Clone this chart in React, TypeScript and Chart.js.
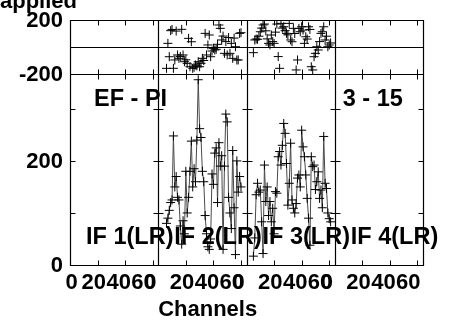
import React, { useEffect, useRef } from "react";
import { Chart, registerables } from "chart.js";

Chart.register(...registerables);

// ---- data ----
const CHANNELS_PER_IF = 64;
const ifNames = ["IF 1(LR)", "IF 2(LR)", "IF 3(LR)", "IF 4(LR)"];
const xTickChannels = [0, 20, 40, 60];
const phaseRange = [-200, 200];
const phaseLabelTicks = [-200, 200];
const ampRange = [0, 367];
const ampTicks = [100, 200, 300];
const ampLabelTicks = [0, 200];

const titleText = "applied";
const baselineText = "EF - PI";
const timeText = "3 - 15";
const xTitle = "Channels";

const if2FirstChannel = 6;
const if2Amp = [
  80, 90, 105, 120, 125, 248, 150, 170, 130, 125, 75, 40, 85, 60, 180, 100, 130, 180,
  238, 150, 185, 160, 240, 356, 262, 245, 180, 160, 95, 60, 35, 30, 50, 175, 155, 215,
  225, 120, 235, 190, 210, 30, 190, 290, 275, 130, 100, 70, 220, 110, 20, 200, 140, 170, 150,
];
const if2Phase = [
  -158, 27, -72, 121, 130, -158, -96, 118, -59, -84, -70, 131, -59, -109, -95, -121, 64,
  -146, 39, -158, -150, -133, -140, -109, -146, -121, -84, -100, 101, -59, 15, 89, -72,
  -30, -10, -22, -17, 20, 163, 138, 52, 81, -47, 40, -59, 70, -47, 27, -84, 66, 2, -96,
  -96, 101, 106,
];

const if3FirstChannel = 5;
const if3Amp = [
  17, 52, 135, 157, 140, 144, 83, 22, 192, 122, 150, 95, 122, 83, 109, 60, 141, 138, 208,
  218, 192, 230, 272, 253, 195, 115, 157, 234, 125, 109, 100, 118, 167, 173, 150, 259,
  227, 208, 173, 128, 90, 38, 208, 189, 192, 145, 160, 179, 128, 144, 110, 247, 157, 147,
  100, 89, 83,
];
const if3Phase = [
  -42, 52, 59, 57, 80, 113, 140, 163, 170, 120, 60, 27, 15, 89, 40, 27, 110, 170, -71,
  -158, 175, 140, 150, 121, 101, 90, 175, 52, 39, 138, 100, -170, -96, 138, 113, 150,
  125, 27, 76, 59, 150, 130, -146, -170, -72, -47, 2, -22, 40, 101, 113, 150, 52, 80, 2,
  15, 30,
];

const FONT = '"Liberation Sans", Arial, Helvetica, sans-serif';

function toPoints(ifIndex: number, first: number, values: number[]) {
  return values.map((v, i) => ({ x: ifIndex * CHANNELS_PER_IF + first + i, y: v }));
}

const framePlugin = {
  id: "aipsFrame",
  afterDatasetsDraw(chart: any) {
    const { ctx, scales } = chart;
    const xs = scales.x;
    const amp = scales.amp;
    const ph = scales.phase;
    const L = xs.getPixelForValue(0);
    const R = xs.getPixelForValue(CHANNELS_PER_IF * ifNames.length);
    const T = ph.getPixelForValue(phaseRange[1]);
    const M = ph.getPixelForValue(phaseRange[0]);
    const Z = ph.getPixelForValue(0);
    const B = amp.getPixelForValue(0);
    const px = (v: number) => Math.round(v) + 0.5;
    const tick = 5;

    ctx.save();
    ctx.strokeStyle = "#000";
    ctx.lineWidth = 1.2;
    ctx.beginPath();
    ctx.rect(px(L), px(T), Math.round(R) - Math.round(L), Math.round(B) - Math.round(T));
    ctx.moveTo(px(L), px(M));
    ctx.lineTo(px(R), px(M));
    ctx.moveTo(px(L), px(Z));
    ctx.lineTo(px(R), px(Z));
    for (let p = 1; p < ifNames.length; p++) {
      const xx = px(xs.getPixelForValue(p * CHANNELS_PER_IF));
      ctx.moveTo(xx, px(T));
      ctx.lineTo(xx, px(B));
    }
    ctx.stroke();

    ctx.lineWidth = 1;
    ctx.beginPath();
    for (let p = 0; p < ifNames.length; p++) {
      for (const c of xTickChannels) {
        if (c === 0) continue;
        const xx = px(xs.getPixelForValue(p * CHANNELS_PER_IF + c));
        ctx.moveTo(xx, px(T));
        ctx.lineTo(xx, px(T) + tick);
        ctx.moveTo(xx, px(M) - tick);
        ctx.lineTo(xx, px(M) + tick);
        ctx.moveTo(xx, px(B));
        ctx.lineTo(xx, px(B) - tick);
      }
    }
    for (let p = 0; p <= ifNames.length; p++) {
      const xx = px(xs.getPixelForValue(p * CHANNELS_PER_IF));
      for (const v of ampTicks) {
        const yy = px(amp.getPixelForValue(v));
        ctx.moveTo(p === 0 ? xx : xx - tick, yy);
        ctx.lineTo(p === ifNames.length ? xx : xx + tick, yy);
      }
    }
    ctx.stroke();

    ctx.fillStyle = "#000";
    // y labels
    ctx.font = `bold 22px ${FONT}`;
    ctx.textAlign = "right";
    ctx.textBaseline = "middle";
    for (const v of phaseLabelTicks) {
      ctx.fillText(String(v), L - 7, ph.getPixelForValue(v) + 1);
    }
    for (const v of ampLabelTicks) {
      ctx.fillText(String(v), L - 7, amp.getPixelForValue(v) + 1);
    }
    // x labels (packed, as in the AIPS plot)
    ctx.font = `bold 22px ${FONT}`;
    ctx.textAlign = "center";
    for (let p = 0; p < ifNames.length; p++) {
      const start = xs.getPixelForValue(p * CHANNELS_PER_IF);
      for (const c of xTickChannels) {
        const d = xs.getPixelForValue(p * CHANNELS_PER_IF + c) - start;
        let cx = c === 0 ? start - 8 : start + 0.9 * d - 1;
        cx = Math.max(cx, L + 1.5);
        ctx.fillText(String(c), cx, B + 18);
      }
    }
    // x title
    ctx.textBaseline = "alphabetic";
    ctx.fillText(xTitle, L + (R - L) * 0.39, B + 51);

    // title (cut at top)
    ctx.textAlign = "left";
    ctx.fillText(titleText, 0, 8);

    // panel annotations
    ctx.font = `bold 23.5px ${FONT}`;
    ctx.fillText(baselineText, xs.getPixelForValue(0) + 24, M + 32);
    ctx.fillText(timeText, xs.getPixelForValue(3 * CHANNELS_PER_IF) + 8, M + 32);
    for (let p = 0; p < ifNames.length; p++) {
      ctx.fillText(ifNames[p], xs.getPixelForValue(p * CHANNELS_PER_IF) + 16, B - 21);
    }
    ctx.restore();
  },
};

export default function App() {
  const ref = useRef<HTMLCanvasElement | null>(null);
  useEffect(() => {
    if (!ref.current) return;
    const ampStyle = {
      type: "line" as const,
      yAxisID: "amp",
      borderColor: "#4a4a4a",
      borderWidth: 1,
      pointStyle: "cross",
      pointRadius: 4.5,
      pointBorderColor: "#000",
      pointBorderWidth: 1,
      tension: 0,
      fill: false,
    };
    const phaseStyle = {
      type: "line" as const,
      yAxisID: "phase",
      showLine: false,
      pointStyle: "cross",
      pointRadius: 4.5,
      pointBorderColor: "#000",
      pointBorderWidth: 1,
    };
    const chart = new Chart(ref.current, {
      type: "line",
      data: {
        datasets: [
          { ...ampStyle, label: "IF2 amp", data: toPoints(1, if2FirstChannel, if2Amp) },
          { ...ampStyle, label: "IF3 amp", data: toPoints(2, if3FirstChannel, if3Amp) },
          { ...phaseStyle, label: "IF2 phase", data: toPoints(1, if2FirstChannel, if2Phase) },
          { ...phaseStyle, label: "IF3 phase", data: toPoints(2, if3FirstChannel, if3Phase) },
        ] as any,
      },
      options: {
        animation: false,
        responsive: false,
        devicePixelRatio: 1,
        layout: { padding: { left: 70, right: 29, top: 20, bottom: 55 } },
        plugins: { legend: { display: false }, tooltip: { enabled: false } },
        scales: {
          x: { type: "linear", min: 0, max: CHANNELS_PER_IF * ifNames.length, display: false },
          amp: {
            type: "linear",
            position: "left",
            stack: "y",
            stackWeight: 191,
            min: ampRange[0],
            max: ampRange[1],
            display: false,
          },
          phase: {
            type: "linear",
            position: "left",
            stack: "y",
            stackWeight: 54,
            min: phaseRange[0],
            max: phaseRange[1],
            display: false,
          },
        },
      } as any,
      plugins: [framePlugin],
    });
    return () => chart.destroy();
  }, []);
  return (
    <div style={{ position: "fixed", left: 0, top: 0, width: 452, height: 320, background: "#fff" }}>
      <canvas ref={ref} width={452} height={320} style={{ width: 452, height: 320 }} />
    </div>
  );
}
